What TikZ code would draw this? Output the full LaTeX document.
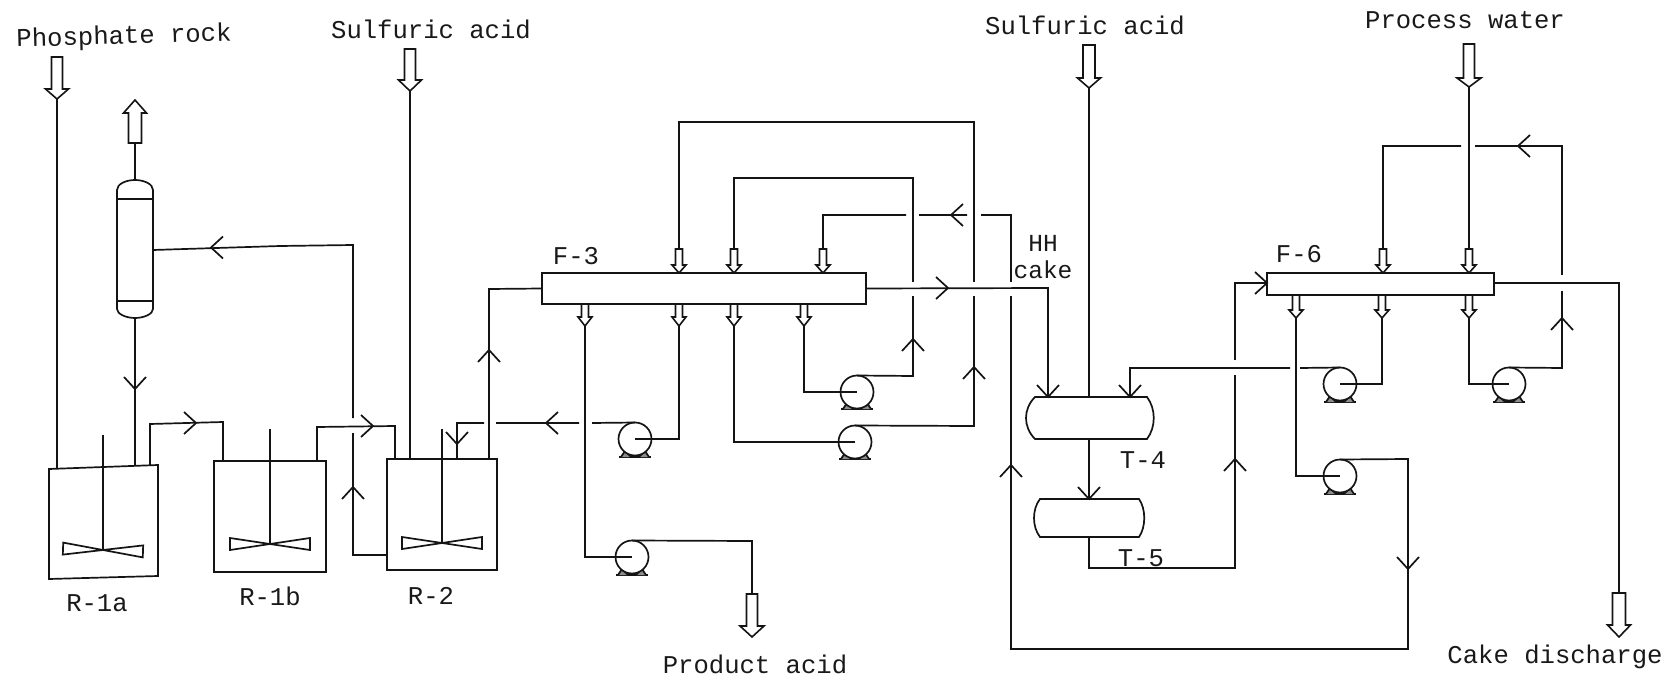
\documentclass[tikz,border=0pt]{standalone}
\usepackage{fontspec}
\setmainfont{Liberation Mono}
\tikzset{
  pipe/.style={line width=1.7pt,line join=miter,draw=black!92},
  vessel/.style={pipe,draw,inner sep=0pt,outer sep=0pt,fill=white},
  pumpbody/.style={pipe,draw,circle,inner sep=0pt,outer sep=0pt,minimum size=33pt,fill=white},
  flowarrow/.style={pipe,draw,fill=white,line width=1.6pt},
  lbl/.style={inner sep=0pt,font=\fontsize{25.6}{26}\selectfont,text height=18pt,text depth=0pt,anchor=center,text=black!90},
  lbltwo/.style={inner sep=0pt,font=\fontsize{24.5}{27.5}\selectfont,align=center,anchor=center,text=black!90},
  chev/.pic={\draw[pipe] (-12,-11) -- (0,0) -- (-12,11);},
}
\newcommand{\hollowarrow}[7]{%
  \draw[flowarrow] ({#2-#3},#5) -- ({#2-#3},#6) -- ({#2-#4},#6) -- (#2,#7) -- ({#2+#4},#6) -- ({#2+#3},#6) -- ({#2+#3},#5) -- cycle;
  \coordinate (#1-top) at (#2,#5);
  \coordinate (#1-tip) at (#2,#7);}
\newcommand{\pumpat}[4]{%
  \draw[pipe] ({#2-16},#4) -- ({#2+16},#4);
  \draw[pipe,fill=black!45] ({#2-14},#4) -- ({#2-10},{#4-6}) -- ({#2-4},#4);
  \draw[pipe,fill=black!45] ({#2+14},#4) -- ({#2+10},{#4-6}) -- ({#2+4},#4);
  \node[pumpbody] (#1) at (#2,#3) {};}
\newcommand{\impellerat}[4]{%
  \draw[pipe,rotate around={#4:(#1,#2)}] ({#1-#3},{#2-6}) -- ({#1+#3},{#2+6}) -- ({#1+#3},{#2-6}) -- ({#1-#3},{#2+6}) -- cycle;}
\begin{document}
\begin{tikzpicture}[x=1pt,y=-1pt]
\useasboundingbox (0,0) rectangle (1675,676);

% vessels
\node[inner sep=0pt,outer sep=0pt,minimum width=109pt,minimum height=111pt] (R1a) at (103.5,522) {};
\draw[pipe,fill=white] (49,469) -- (158,465) -- (158,576) -- (49,579) -- cycle;
\node[vessel,minimum width=112pt,minimum height=111pt] (R1b) at (270,516.5) {};
\node[vessel,minimum width=110pt,minimum height=111pt] (R2) at (442,514.5) {};
\node[vessel,minimum width=36pt,minimum height=102pt] (col) at (135,250) {};
\draw[pipe] (col.north west) -- (117,190) .. controls (117,184) and (126,180) .. (135,180) coordinate (coltop) .. controls (144,180) and (153,184) .. (153,190) -- (col.north east);
\draw[pipe] (col.south west) -- (117,309) .. controls (117,314) and (126,318) .. (135,318) coordinate (colbot) .. controls (144,318) and (153,314) .. (153,309) -- (col.south east);

\node[inner sep=0pt,outer sep=0pt,minimum width=112pt,minimum height=42pt] (T4) at (1091,418) {};
\draw[pipe,fill=white] (T4.north west) -- (T4.north east) .. controls +(9,12) and +(9,-12) .. (T4.south east) -- (T4.south west) .. controls +(-12,-12) and +(-12,12) .. (T4.north west) -- cycle;
\node[inner sep=0pt,outer sep=0pt,minimum width=99pt,minimum height=38pt] (T5) at (1089.5,518) {};
\draw[pipe,fill=white] (T5.north west) -- (T5.north east) .. controls +(7,10) and +(7,-10) .. (T5.south east) -- (T5.south west) .. controls +(-8,-10) and +(-8,10) .. (T5.north west) -- cycle;

\node[vessel,minimum width=324pt,minimum height=31pt] (F3) at (704,288.5) {};
\node[vessel,minimum width=227pt,minimum height=22pt] (F6) at (1380.5,284) {};

% agitators
\coordinate (imp1) at (103,550);
\coordinate (imp2) at (270,544);
\coordinate (imp3) at (442,543);
\draw[pipe] (103,435) -- (imp1);
\draw[pipe] (270,429) -- (imp2);
\draw[pipe] (442,429) -- (imp3);
\impellerat{103}{550}{40}{-2}
\impellerat{270}{544}{40}{0}
\impellerat{442}{543}{40}{0}

% pumps
\pumpat{pL}{635}{439}{457}
\pumpat{pM}{855}{442}{459}
\pumpat{pU}{857}{392}{409}
\pumpat{pP}{632}{557}{575}
\pumpat{pA}{1340}{384}{402}
\pumpat{pB}{1509}{384}{402}
\pumpat{pC}{1340}{476}{494}

% hollow stream arrows
\hollowarrow{phos}{57}{5.5}{11.5}{57}{89}{99}
\hollowarrow{vent}{135}{6.5}{11.5}{143}{113}{100}
\hollowarrow{sulfa}{410}{5.5}{11.5}{49}{80}{91}
\hollowarrow{sulfb}{1089}{6}{11.5}{45}{78}{88}
\hollowarrow{water}{1469}{5.5}{12}{44}{78}{87}
\hollowarrow{prod}{752}{5.5}{12}{594}{626}{637}
\hollowarrow{cake}{1619}{6.5}{11.5}{593}{625}{637}
\hollowarrow{ta}{679}{3.5}{7}{249}{265}{273}
\hollowarrow{tb}{734}{3.5}{7}{249}{265}{273}
\hollowarrow{tc}{823}{3.5}{7}{249}{265}{273}
\hollowarrow{ba}{585}{3.5}{7}{304}{317}{326}
\hollowarrow{bb}{679}{3.5}{7}{304}{317}{326}
\hollowarrow{bc}{734}{3.5}{7}{304}{317}{326}
\hollowarrow{bd}{804}{3.5}{7}{304}{317}{326}
\hollowarrow{td}{1383}{3.5}{7}{249}{265}{273}
\hollowarrow{te}{1469}{3.5}{7}{249}{265}{273}
\hollowarrow{be}{1296}{3.5}{7}{295}{310}{318}
\hollowarrow{bf}{1382}{3.5}{7}{295}{310}{318}
\hollowarrow{bg}{1469}{3.5}{7}{295}{310}{318}

% connectors, left part
\draw[pipe] (phos-tip) -- (57,469);
\draw[pipe] (vent-top) -- (coltop);
\draw[pipe] (colbot) -- (135,466);
\pic[rotate=-90] at (135,389) {chev};
\draw[pipe] (col.east) -- (280,246) -- (353,245) -- (353,418) (353,433) -- (353,555) -- (R2.west |- 0,555);
\pic[rotate=180] at (211,247.5) {chev};
\pic[rotate=90] at (353,487) {chev};
\draw[pipe] (150,465) -- (150,424) -- (223,422) -- (223,0 |- R1b.north);
\pic at (196,423) {chev};
\draw[pipe] (317,0 |- R1b.north) -- (317,427) -- (395,426) -- (395,0 |- R2.north);
\pic at (373,426) {chev};
\draw[pipe] (sulfa-tip) -- (sulfa-tip |- R2.north);
\draw[pipe] (457,0 |- R2.north) -- (457,423) -- (484,423) (496,423) -- (579,423) (592,423) -- (pL.north);
\pic[rotate=-90] at (457,444) {chev};
\pic[rotate=180] at (546,423) {chev};
\draw[pipe] (489,0 |- R2.north) -- (489,289) -- (F3.west);
\pic[rotate=90] at (489,350) {chev};

% connectors, first filter
\draw[pipe] (bb-tip) -- (679,439) -- (pL.center);
\draw[pipe] (ba-tip) -- (585,557) -- (pP.center);
\draw[pipe] (pP.north) -- (752,541) -- (prod-top);
\draw[pipe] (bc-tip) -- (734,442) -- (pM.center);
\draw[pipe] (bd-tip) -- (804,392) -- (pU.center);
\draw[pipe] (pM.north) -- (974,426) -- (974,296) (974,282) -- (974,122) -- (679,122) -- (ta-top);
\pic[rotate=90] at (974,367) {chev};
\draw[pipe] (pU.north) -- (913,376) -- (913,296) (913,282) -- (913,178) -- (734,178) -- (tb-top);
\pic[rotate=90] at (913,339) {chev};
\draw[pipe] (F3.east) -- (1048,288) -- (1048,0 |- T4.north);
\pic at (948,288) {chev};
\pic[rotate=-90] at (1048,397) {chev};

% connectors, second filter
\draw[pipe] (sulfb-tip) -- (sulfb-tip |- T4.north);
\draw[pipe] (1089,0 |- T4.south) -- (1089,0 |- T5.north);
\pic[rotate=-90] at (1089,499) {chev};
\draw[pipe] (1089,0 |- T5.south) -- (1089,568) -- (1235,568) -- (1235,375) (1235,360) -- (1235,283) -- (F6.west |- 0,283);
\pic[rotate=90] at (1235,459) {chev};
\pic at (1267,283) {chev};
\draw[pipe] (bf-tip) -- (1382,384) -- (pA.center);
\draw[pipe] (pA.north) -- (1300,368) (1290,368) -- (1130,368) -- (1130,0 |- T4.north);
\pic[rotate=-90] at (1130,397) {chev};
\draw[pipe] (be-tip) -- (1296,476) -- (pC.center);
\draw[pipe] (pC.north) -- (1408,459) -- (1408,649) -- (1011,649) -- (1011,296) (1011,282) -- (1011,215) -- (981,215) (967,215) -- (919,215) (906,215) -- (823,215) -- (tc-top);
\pic[rotate=-90] at (1408,569) {chev};
\pic[rotate=90] at (1011,465) {chev};
\pic[rotate=180] at (951,215) {chev};
\draw[pipe] (bg-tip) -- (1469,384) -- (pB.center);
\draw[pipe] (pB.north) -- (1562,368) -- (1562,291) (1562,275) -- (1562,146) -- (1475,146) (1461,146) -- (1383,146) -- (td-top);
\pic[rotate=90] at (1562,318) {chev};
\pic[rotate=180] at (1518,146) {chev};
\draw[pipe] (water-tip) -- (te-top);
\draw[pipe] (F6.east |- 0,283) -- (1619,283) -- (cake-top);

% labels
\node[lbl,rotate=1.5] (tphos) at (124,35) {Phosphate rock};
\node[lbl] (tsulfa) at (431,30) {Sulfuric acid};
\node[lbl] (tsulfb) at (1085,26) {Sulfuric acid};
\node[lbl] (twater) at (1465,20) {Process water};
\node[lbl] (tprod) at (755,664) {Product acid};
\node[lbl] (tcake) at (1555,654) {Cake discharge};
\node[lbl] (tr1a) at (97,602) {R-1a};
\node[lbl] (tr1b) at (270,596) {R-1b};
\node[lbl] (tr2) at (431,595) {R-2};
\node[lbl] (tf3) at (576,256) {F-3};
\node[lbl] (tf6) at (1299,253) {F-6};
\node[lbltwo] (thh) at (1043,257) {HH\\cake};
\node[lbl] (tt4) at (1143,459) {T-4};
\node[lbl] (tt5) at (1141,557) {T-5};
\end{tikzpicture}
\end{document}
